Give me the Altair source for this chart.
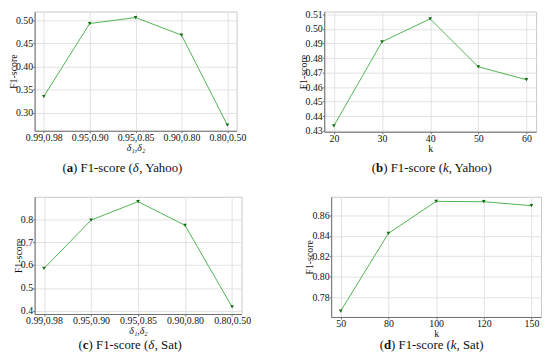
import altair as alt
import pandas as pd

# ---------------- data ----------------
delta_labels = ["0.99,0.98", "0.95,0.90", "0.95,0.85", "0.90,0.80", "0.80,0.50"]
f1_delta_yahoo = [0.335, 0.493, 0.506, 0.468, 0.273]
k_yahoo = ["20", "30", "40", "50", "60"]
f1_k_yahoo = [0.4334, 0.4912, 0.507, 0.474, 0.4651]
f1_delta_sat = [0.585, 0.796, 0.877, 0.773, 0.417]
k_sat = ["50", "80", "100", "120", "150"]
f1_k_sat = [0.7665, 0.8423, 0.8735, 0.8732, 0.8693]

ticks_a = [0.30, 0.35, 0.40, 0.45, 0.50]
ticks_b = [0.43, 0.44, 0.45, 0.46, 0.47, 0.48, 0.49, 0.50, 0.51]
ticks_c = [0.4, 0.5, 0.6, 0.7, 0.8]
ticks_d = [0.78, 0.80, 0.82, 0.84, 0.86]

FONT = "Liberation Serif"
LINE = "#50b352"
MARK = "#126f12"
CAP_SIZE = 13

# approximate Times advance widths (per 1000 em) for caption layout
W_N = {" ": 250, "(": 333, ")": 333, ",": 250, "-": 333, "1": 500, "F": 556, "Y": 722,
       "S": 556, "a": 444, "c": 444, "e": 444, "h": 500, "o": 500, "r": 333, "s": 389, "t": 278}
W_B = {"a": 500, "b": 556, "c": 444, "d": 556}
W_I = {"δ": 500, "k": 444}


def seg_width(text, kind):
    table = W_B if kind == "bold" else (W_I if kind == "italic" else W_N)
    return sum(table.get(ch, 500) for ch in text) * CAP_SIZE / 1000.0


def caption_layers(letter, sym, rest, cx, cy):
    segs = [("(", "normal"), (letter, "bold"), (") F1-score (", "normal"),
            (sym, "italic"), (", " + rest + ")", "normal")]
    total = sum(seg_width(t, k) for t, k in segs)
    x0 = cx - total / 2.0
    layers = []
    one = pd.DataFrame({"z": [0]})
    for t, k in segs:
        layers.append(
            alt.Chart(one).mark_text(
                align="left", baseline="middle", font=FONT, fontSize=CAP_SIZE,
                fontWeight="bold" if k == "bold" else "normal",
                fontStyle="italic" if k == "italic" else "normal", color="#111111",
            ).encode(x=alt.value(x0), y=alt.value(cy), text=alt.value(t))
        )
        x0 += seg_width(t, k)
    return layers


def panel(xs, ys, xtitle, xitalic, ydom, yticks, ydec, w, h, cap):
    df = pd.DataFrame({"x": xs, "y": ys})
    x = alt.X("x:N", sort=xs, title=xtitle,
              scale=alt.Scale(type="point", padding=0.2),
              axis=alt.Axis(labelAngle=0, grid=True, labelPadding=0, titlePadding=0,
                            titleFontStyle="italic" if xitalic else "normal"))
    mult = 10 ** ydec
    lab = "'0.' + (round(datum.value * %d) < 10 && %d > 10 ? '0' : '') + round(datum.value * %d)" % (mult, mult, mult)
    y = alt.Y("y:Q", title="F1-score",
              scale=alt.Scale(domain=ydom, nice=False, zero=False),
              axis=alt.Axis(values=yticks, grid=True, titlePadding=-3, labelPadding=0,
                            labelExpr=lab))
    line = alt.Chart(df).mark_line(color=LINE, strokeWidth=1).encode(x=x, y=y)
    pts = alt.Chart(df).mark_point(shape="triangle-down", filled=True, size=14,
                                   color=MARK, opacity=1).encode(x=x, y=y)
    return alt.layer(line, pts, *caption_layers(*cap)).properties(width=w, height=h)


pa = panel(delta_labels, f1_delta_yahoo, "δ₁,δ₂", True, [0.2607, 0.519], ticks_a, 2,
           205, 121, ("a", "δ", "Yahoo", 90, 159))
pb = panel(k_yahoo, f1_k_yahoo, "k", False, [0.4293, 0.512], ticks_b, 2,
           215, 122, ("b", "k", "Yahoo", 110, 159))
pc = panel(delta_labels, f1_delta_sat, "δ₁,δ₂", True, [0.386, 0.898], ticks_c, 1,
           210, 119, ("c", "δ", "Sat", 97, 151))
pd_ = panel(k_sat, f1_k_sat, "k", False, [0.7607, 0.878], ticks_d, 2,
            213, 122, ("d", "k", "Sat", 102, 151))

row1 = alt.hconcat(pa, pb, spacing=52)
row2 = alt.hconcat(pc, pd_, spacing=54)

chart = alt.vconcat(row1, row2, spacing=20).properties(
    padding={"left": 0, "top": -2, "right": 0, "bottom": 0}
).configure_view(
    stroke="#c8c8c8", strokeWidth=1
).configure_axis(
    domainColor="#707070", tickColor="#707070", tickSize=2,
    labelFont=FONT, labelFontSize=10, labelColor="#111111",
    titleFont=FONT, titleFontSize=10, titleFontWeight="normal", titleColor="#111111",
    gridColor="#e2e2e2", gridWidth=1
)

chart.save("out.html", embed_options={"renderer": "svg", "actions": False})
